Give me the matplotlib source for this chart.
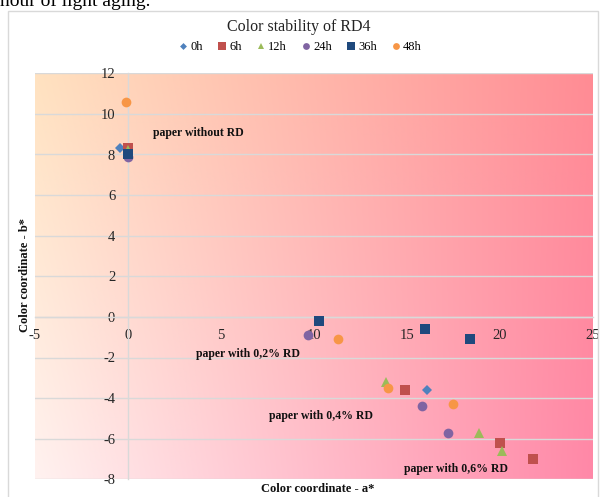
import numpy as np
import matplotlib.pyplot as plt
from matplotlib.patches import Rectangle
from matplotlib.lines import Line2D

plt.rcParams['font.family'] = ['Liberation Serif', 'DejaVu Serif']
plt.rcParams['axes.unicode_minus'] = False

# --- donnees (a*, b*) ---
SERIES = ["0h", "6h", "12h", "24h", "36h", "48h"]

a_0h = [-0.4, 16.1]
b_0h = [8.3, -3.6]

a_6h = [0.0, 14.9, 20.0, 21.8]
b_6h = [8.3, -3.6, -6.2, -7.0]

a_12h = [0.0, 13.9, 18.9, 20.1]
b_12h = [8.2, -3.2, -5.7, -6.6]

a_24h = [0.0, 9.7, 15.8, 17.2]
b_24h = [7.9, -0.9, -4.4, -5.7]

a_36h = [0.0, 10.3, 16.0, 18.4]
b_36h = [8.0, -0.2, -0.6, -1.1]

a_48h = [-0.1, 11.3, 14.0, 17.5]
b_48h = [10.6, -1.1, -3.5, -4.3]

LABELS = ["paper without RD", "paper with 0,2% RD",
          "paper with 0,4% RD", "paper with 0,6% RD"]
LABEL_A = [1.35, 6.45, 10.4, 17.65]
LABEL_B = [9.05, -1.85, -4.9, -7.5]

X_TICKS = [-5, 0, 5, 10, 15, 20, 25]
Y_TICKS = [-8, -6, -4, -2, 0, 2, 4, 6, 8, 10, 12]

styles = [
    ("D", "#4F81BD", 5),
    ("s", "#C0504D", 7.5),
    ("^", "#9BBB59", 7),
    ("o", "#8064A2", 7),
    ("s", "#1F497D", 7.5),
    ("o", "#F79646", 7),
]
donnees = [(a_0h, b_0h), (a_6h, b_6h), (a_12h, b_12h),
           (a_24h, b_24h), (a_36h, b_36h), (a_48h, b_48h)]

W, H = 602, 497
fig = plt.figure(figsize=(W / 100, H / 100), dpi=100)

# cadre du graphique + texte coupe au dessus (comme sur l'original)
fig.patches.append(Rectangle((8 / W, -0.02), 590 / W, 1.02 - 11 / H,
                             transform=fig.transFigure, fill=False,
                             edgecolor="#D9D9D9", linewidth=1))
fig.text(0.0, 1 - 6 / H, "hour of light aging.", ha="left", va="baseline",
         fontsize=14, color="black")

ax = fig.add_axes([34.7 / W, 1 - 479.3 / H, 558 / W, 406 / H])

# fond en degrade (creme en haut a gauche -> rose a droite)
u = np.linspace(0, 1, 300)
v = np.linspace(0, 1, 300)
U, V = np.meshgrid(u, v)
tl = np.array([255, 226, 192]) / 255
tr = np.array([255, 140, 148]) / 255
bl = np.array([255, 242, 240]) / 255
br = np.array([255, 136, 168]) / 255
U3, V3 = U[..., None], V[..., None]
img = (1 - U3) * (1 - V3) * tl + U3 * (1 - V3) * tr + (1 - U3) * V3 * bl + U3 * V3 * br
ax.imshow(img, extent=[0, 1, 0, 1], transform=ax.transAxes, aspect="auto",
          zorder=0, interpolation="bilinear")

for (a, b), (m, c, s), nom in zip(donnees, styles, SERIES):
    ax.plot(a, b, linestyle="none", marker=m, color=c, markersize=s,
            markeredgewidth=0, zorder=3, label=nom)

for txt, xa, yb in zip(LABELS, LABEL_A, LABEL_B):
    ax.text(xa, yb, txt, ha="left" if txt == LABELS[0] else "center",
            va="center", fontsize=8.5, fontweight="bold", color="#111111", zorder=4)

ax.set_xlim(-5, 25)
ax.set_ylim(-8, 12)
ax.set_xticks(X_TICKS)
ax.set_yticks(Y_TICKS)
ax.spines["left"].set_position(("data", 0))
ax.spines["bottom"].set_position(("data", 0))
ax.spines["top"].set_visible(False)
ax.spines["right"].set_visible(False)
for sp in ["left", "bottom"]:
    ax.spines[sp].set_color("#D9D9D9")
    ax.spines[sp].set_linewidth(1)
ax.tick_params(length=0, labelsize=10.5, labelcolor="#262626")
ax.tick_params(axis="y", pad=9)
ax.tick_params(axis="x", pad=9)
ax.grid(axis="y", color="#D9D9D9", linewidth=1, zorder=1)
ax.set_axisbelow(True)

fig.text(299 / W, 1 - 27 / H, "Color stability of RD4", ha="center", va="center",
         fontsize=11.5, color="#222222")

handles = [Line2D([], [], linestyle="none", marker=m, color=c, markersize=s * 0.7,
                  markeredgewidth=0) for m, c, s in styles]
fig.legend(handles, SERIES, loc="center", bbox_to_anchor=(300 / W, 1 - 47 / H),
           ncol=6, frameon=False, fontsize=9, handletextpad=0.2,
           columnspacing=1.1, handlelength=0.8, borderpad=0)

fig.text(318 / W, 1 - 489 / H, "Color coordinate - a*", ha="center", va="center",
         fontsize=9, fontweight="bold", color="#111111")
fig.text(25 / W, 1 - 275 / H, "Color coordinate - b*", ha="center", va="center",
         rotation=90, fontsize=9, fontweight="bold", color="#111111")

fig.savefig("out.png", dpi=100)
